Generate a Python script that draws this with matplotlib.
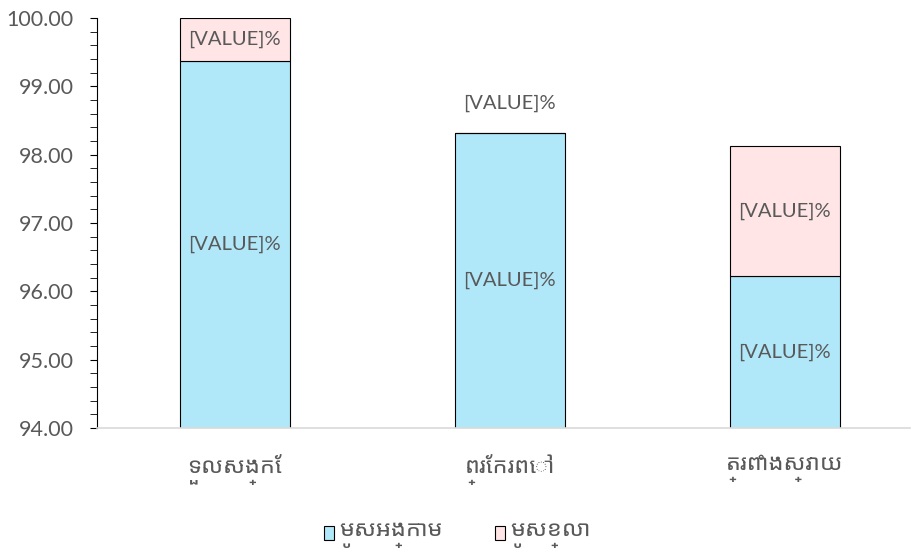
import matplotlib
matplotlib.use("Agg")
import matplotlib.pyplot as plt
import numpy as np
from matplotlib.ticker import MultipleLocator, FormatStrFormatter

plt.rcParams["font.family"] = ["Lato", "Noto Sans Khmer UI", "Noto Sans Khmer", "DejaVu Sans"]

categories = ["ទួលសង្កែ", "ព្រែករពៅ", "ត្រពាំងស្វាយ"]
series_names = ["មូសអង្កាម", "មូសខ្លា"]
base_vals = [99.37, 98.31, 96.22]
top_vals = [0.63, 0.00, 1.90]
label_text = "[VALUE]%"

blue = "#B0E8FA"
pink = "#FFE5E5"
txt = "#595959"
ymin = 94.0

fig = plt.figure(figsize=(9.14, 5.52), dpi=100)
ax = fig.add_axes([97 / 914, 1 - 428 / 552, (910 - 97) / 914, (428 - 18) / 552])

x = np.arange(len(categories))
w = 0.40
ax.bar(x, base_vals, w, color=blue, edgecolor="black", lw=0.8, label=series_names[0])
ax.bar(x, top_vals, w, bottom=base_vals, color=pink, edgecolor="black", lw=0.8,
       label=series_names[1])

for xi, b, t in zip(x, base_vals, top_vals):
    ax.text(xi, (ymin + b) / 2, label_text, ha="center", va="center", fontsize=14.5, color=txt)
    if t > 0:
        ax.text(xi, b + t / 2, label_text, ha="center", va="center", fontsize=14.5, color=txt)
    else:
        ax.annotate(label_text, (xi, b), xytext=(0, 22), textcoords="offset points",
                    ha="center", va="center", fontsize=14.5, color=txt)

ax.set_ylim(ymin, 100)
ax.set_xlim(-0.5, 2.456)
ax.yaxis.set_major_locator(MultipleLocator(1))
ax.yaxis.set_minor_locator(MultipleLocator(0.2))
ax.yaxis.set_major_formatter(FormatStrFormatter("%.2f"))
ax.tick_params(axis="y", which="both", length=5, color="black", labelsize=15.5, labelcolor=txt,
               pad=12)
ax.tick_params(axis="x", length=0, labelsize=17, labelcolor=txt, pad=19)
ax.set_xticks(x)
ax.set_xticklabels(categories)

for s in ["top", "right"]:
    ax.spines[s].set_visible(False)
ax.spines["left"].set_color("black")
ax.spines["bottom"].set_color("#D9D9D9")
ax.spines["bottom"].set_linewidth(1.2)

fig.legend(loc="center", bbox_to_anchor=(0.5, 1 - 535 / 552), ncol=2, frameon=False, fontsize=17,
           handlelength=0.45, handleheight=0.55, handletextpad=0.2, columnspacing=2.2,
           labelcolor=txt)

fig.savefig("out.png", dpi=100)
